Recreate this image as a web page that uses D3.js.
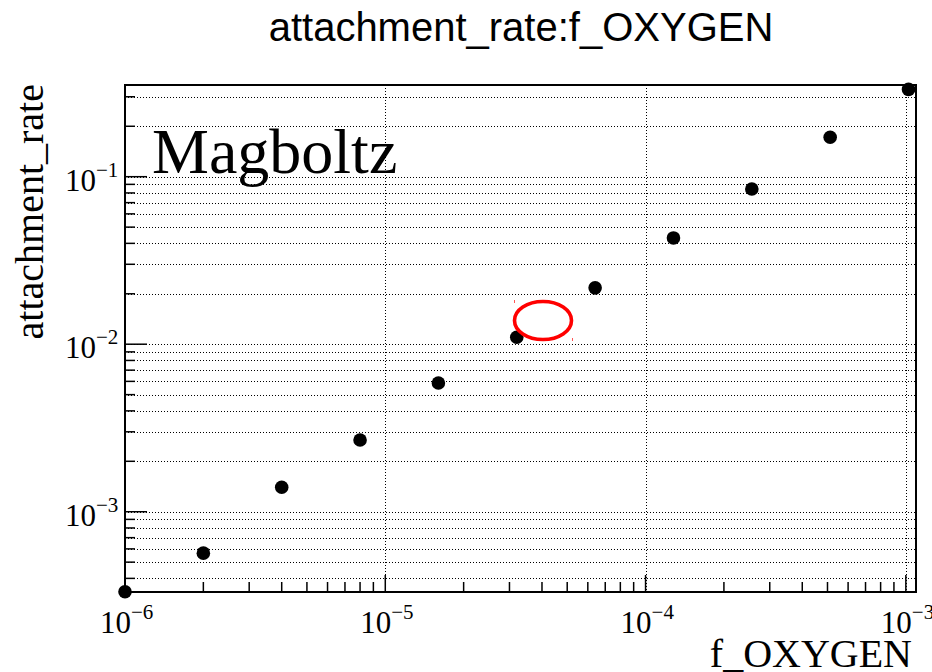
<!DOCTYPE html>
<html>
<head>
<meta charset="utf-8">
<script src="https://cdn.jsdelivr.net/npm/d3@7"></script>
<style>
  html, body { margin: 0; padding: 0; background: #fff; }
  svg { display: block; }
</style>
</head>
<body>
<svg id="chart" width="932" height="672"></svg>
<script>
// ---- data ----
const fOxygen = [1e-6, 2e-6, 4e-6, 8e-6, 1.6e-5, 3.2e-5, 6.4e-5, 1.28e-4, 2.56e-4, 5.12e-4, 1.024e-3];
const attachmentRate = [3.33e-4, 5.66e-4, 1.40e-3, 2.68e-3, 5.87e-3, 1.10e-2, 2.17e-2, 4.31e-2, 8.45e-2, 0.172, 0.332];
const xMajorTicks = [1e-6, 1e-5, 1e-4, 1e-3];
const xTickExponents = ["−6", "−5", "−4", "−3"];
const yMajorTicks = [1e-3, 1e-2, 1e-1];
const yTickExponents = ["−3", "−2", "−1"];
const xDomain = [1e-6, 1.094e-3];
const yDomain = [3.317e-4, 0.3527];
const titleText = "attachment_rate:f_OXYGEN";
const xLabel = "f_OXYGEN";
const yLabel = "attachment_rate";
const annotation = "Magboltz";

// ---- layout ----
const L = 125, R = 916, T = 85, B = 592;
const svg = d3.select("#chart");
const x = d3.scaleLog().domain(xDomain).range([L, R]);
const y = d3.scaleLog().domain(yDomain).range([B, T]);

// minor tick values (2..9 × 10^k) within domain
function logTicks(domain) {
  const out = [];
  const k0 = Math.floor(Math.log10(domain[0])), k1 = Math.ceil(Math.log10(domain[1]));
  for (let k = k0; k <= k1; k++) for (let m = 1; m <= 9; m++) {
    const v = m * Math.pow(10, k);
    if (v >= domain[0] * 0.9999 && v <= domain[1] * 1.0001) out.push(v);
  }
  return out;
}
const xAll = logTicks(xDomain);
const yAll = logTicks(yDomain);
const isMajor = v => Math.abs(Math.log10(v) - Math.round(Math.log10(v))) < 1e-6;

// ---- grid ----
const grid = svg.append("g").attr("stroke", "#000").attr("stroke-width", 1)
  .attr("stroke-dasharray", "1,2").attr("fill", "none").attr("shape-rendering", "crispEdges");
grid.selectAll("line.h").data(yAll).join("line").attr("class", "h")
  .attr("x1", L).attr("x2", R).attr("y1", d => Math.round(y(d)) + 0.5).attr("y2", d => Math.round(y(d)) + 0.5);
grid.selectAll("line.v").data(xMajorTicks).join("line").attr("class", "v")
  .attr("y1", T).attr("y2", B).attr("x1", d => Math.round(x(d)) + 0.5).attr("x2", d => Math.round(x(d)) + 0.5);

// ---- ticks ----
const ticks = svg.append("g").attr("stroke", "#000").attr("stroke-width", 1.5);
ticks.selectAll("line.xt").data(xAll).join("line").attr("class", "xt")
  .attr("x1", d => x(d)).attr("x2", d => x(d))
  .attr("y1", B).attr("y2", d => B - (isMajor(d) ? 17 : 10));
ticks.selectAll("line.yt").data(yAll).join("line").attr("class", "yt")
  .attr("y1", d => y(d)).attr("y2", d => y(d))
  .attr("x1", L).attr("x2", d => L + (isMajor(d) ? 22 : 10));

// ---- frame ----
svg.append("rect").attr("x", L).attr("y", T).attr("width", R - L).attr("height", B - T)
  .attr("fill", "none").attr("stroke", "#000").attr("stroke-width", 2);

// ---- tick labels ----
const serif = "'Liberation Serif','Times New Roman',serif";
const xl = svg.append("g").attr("font-family", serif).attr("fill", "#000");
xMajorTicks.forEach((v, i) => {
  const t = xl.append("text").attr("x", x(v) - 25).attr("y", 633).attr("font-size", 31);
  t.append("tspan").text("10");
  t.append("tspan").attr("dy", -14).attr("font-size", 21).text(xTickExponents[i]);
});
const yl = svg.append("g").attr("font-family", serif).attr("fill", "#000");
yMajorTicks.forEach((v, i) => {
  const t = yl.append("text").attr("x", 65).attr("y", y(v) + 14).attr("font-size", 31);
  t.append("tspan").text("10");
  t.append("tspan").attr("dy", -14).attr("font-size", 21).text(yTickExponents[i]);
});

// ---- axis titles ----
svg.append("text").attr("x", 912).attr("y", 667).attr("text-anchor", "end")
  .attr("font-family", serif).attr("font-size", 40).text(xLabel);
svg.append("text").attr("transform", "translate(43,84) rotate(-90)").attr("text-anchor", "end")
  .attr("font-family", serif).attr("font-size", 40).text(yLabel);

// ---- title ----
svg.append("text").attr("x", 521).attr("y", 41).attr("text-anchor", "middle")
  .attr("font-family", "'Liberation Sans',Arial,Helvetica,sans-serif").attr("font-size", 40)
  .text(titleText);

// ---- annotation ----
svg.append("text").attr("x", 152).attr("y", 173).attr("font-family", serif)
  .attr("font-size", 64).text(annotation);

// ---- points ----
svg.append("g").selectAll("circle").data(fOxygen.map((d, i) => [d, attachmentRate[i]]))
  .join("circle").attr("cx", d => x(d[0])).attr("cy", d => y(d[1])).attr("r", 6.8).attr("fill", "#000");

// ---- red ellipse highlight ----
svg.append("ellipse").attr("cx", 543).attr("cy", 320.5).attr("rx", 28.5).attr("ry", 19)
  .attr("fill", "none").attr("stroke", "#f00").attr("stroke-width", 3.6);
svg.append("line").attr("x1", 514.5).attr("x2", 514.5).attr("y1", 300).attr("y2", 303)
  .attr("stroke", "#f55").attr("stroke-width", 1);
svg.append("line").attr("x1", 572.5).attr("x2", 572.5).attr("y1", 338).attr("y2", 341)
  .attr("stroke", "#f55").attr("stroke-width", 1);
</script>
</body>
</html>
